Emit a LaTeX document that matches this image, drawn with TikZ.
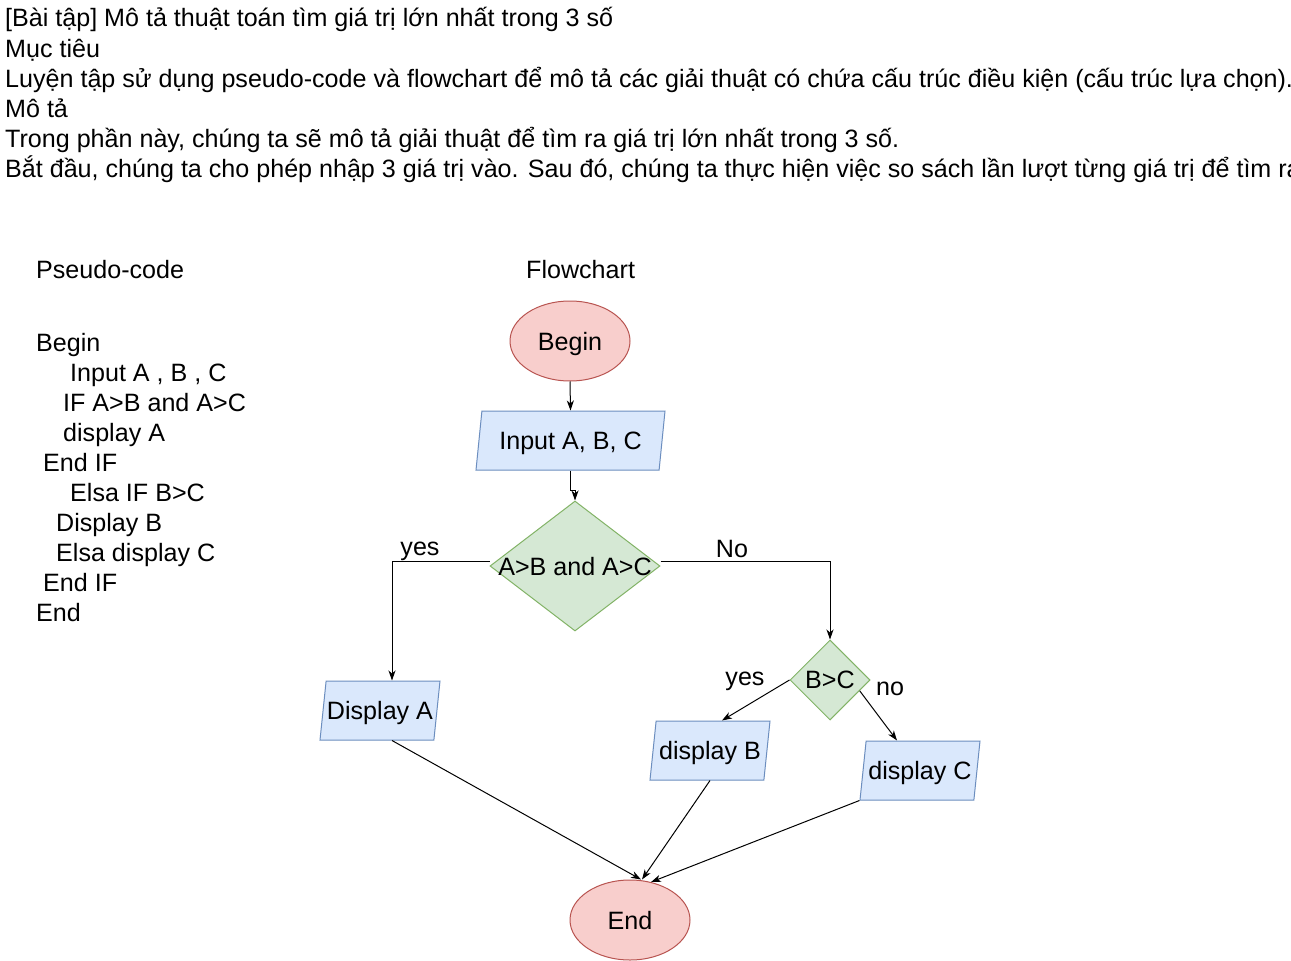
\documentclass[tikz,border=0pt]{standalone}
\usepackage{fontspec}
\setmainfont{Liberation Sans}
\usetikzlibrary{shapes.geometric, arrows.meta}

\definecolor{termfill}{HTML}{F8CECC}
\definecolor{termline}{HTML}{B85450}
\definecolor{iofill}{HTML}{DAE8FC}
\definecolor{ioline}{HTML}{6C8EBF}
\definecolor{decfill}{HTML}{D5E8D4}
\definecolor{decline}{HTML}{82B366}

\begin{document}
\begin{tikzpicture}[
        x=1pt, y=-1pt,
        font=\fontsize{25.1}{30}\selectfont,
        plain text/.style={anchor=base west, inner sep=0pt},
        flat text/.style={execute at begin node={\hbox to 0pt\bgroup\hss},
                          execute at end node={\hss\egroup}},
        terminal/.style={ellipse, draw=termline, fill=termfill, line width=1pt,
                         minimum width=120pt, minimum height=80pt, inner sep=0pt,
                         text depth=0pt},
        io/.style={trapezium, trapezium left angle=71.4, trapezium right angle=108.6,
                   trapezium stretches body=true, draw=ioline, fill=iofill, line width=1pt,
                   minimum width=120pt, minimum height=59pt, inner sep=0pt, text depth=0pt,
                   flat text},
        decision/.style={diamond, draw=decline, fill=decfill, line width=1pt,
                         inner sep=0pt, text depth=0pt, flat text},
        branch/.style={inner sep=0pt, text depth=0pt},
        flow/.style={-{Stealth[length=10pt, width=7pt, inset=3pt]}, line width=1pt}
      ]

      \useasboundingbox (0,0) rectangle (1291,961);
      \clip (0,0) rectangle (1291,961);
      \fill[white] (0,0) rectangle (1291,961);

      % task text
      \foreach \txt [count=\i] in {
          {[Bài tập] Mô tả thuật toán tìm giá trị lớn nhất trong 3 số},
          {Mục tiêu},
          {Luyện tập sử dụng pseudo-code và flowchart để mô tả các giải thuật có chứa cấu trúc điều kiện (cấu trúc lựa chọn).},
          {Mô tả},
          {Trong phần này, chúng ta sẽ mô tả giải thuật để tìm ra giá trị lớn nhất trong 3 số.},
          {Bắt đầu, chúng ta cho phép nhập 3 giá trị vào. Sau đó, chúng ta thực hiện việc so sách lần lượt từng giá trị để tìm ra}} {
          \node[plain text] (task\i) at (5,{27+30*(\i-1)}) {\txt};
        }

      \node[plain text] (pseudo) at (36,278) {Pseudo-code};
      \node[plain text] (chart) at (526,278) {Flowchart};

      \foreach \x/\txt [count=\i] in {36/Begin, 70/{Input A , B , C}, 63/{IF A>B and A>C},
          63/{display A}, 43/{End IF}, 70/{Elsa IF B>C}, 56/{Display B},
          56/{Elsa display C}, 43/{End IF}, 36/End} {
          \node[plain text] (line\i) at (\x,{351+30*(\i-1)}) {\txt};
        }

      % flowchart
      \node[terminal] (start) at (570,341) {Begin};
      \node[io, minimum width=189pt] (input) at (570.5,440.5) {Input A, B, C};
      \node[decision, minimum width=170pt, minimum height=130pt] (ab) at (575,566) {A>B and A>C};
      \node[decision, minimum width=80pt, minimum height=80pt] (bc) at (830,680) {B>C};
      \node[io] (dispa) at (380,710.5) {Display A};
      \node[io] (dispb) at (710,750.5) {display B};
      \node[io] (dispc) at (920,770.5) {display C};
      \node[terminal] (stop) at (630,920) {End};

      \draw[flow] (start.south) -- (input.north);
      \draw[flow] (input.south) -- ++(0,20) -| (ab.north);
      \draw[flow] ([yshift=5pt]ab.west) -| ([xshift=12pt]dispa.north);
      \draw[flow] ([yshift=5pt]ab.east) -| (bc.north);
      \draw[flow] (bc.west) -- ([xshift=12pt]dispb.north);
      \draw[flow] (bc.-20) -- ([xshift=-23pt]dispc.north);
      \draw[flow] ([xshift=12pt]dispa.south) -- ([xshift=11pt]stop.north);
      \draw[flow] (dispb.south) -- ([xshift=12pt]stop.north);
      \draw[flow] (dispc.bottom left corner) -- (stop.61);

      \node[branch] (yesab) at (420,549) {yes};
      \node[branch] (noab) at (732,549) {No};
      \node[branch] (yesbc) at (745,679) {yes};
      \node[branch] (nobc) at (890,689) {no};

    \end{tikzpicture}
\end{document}
